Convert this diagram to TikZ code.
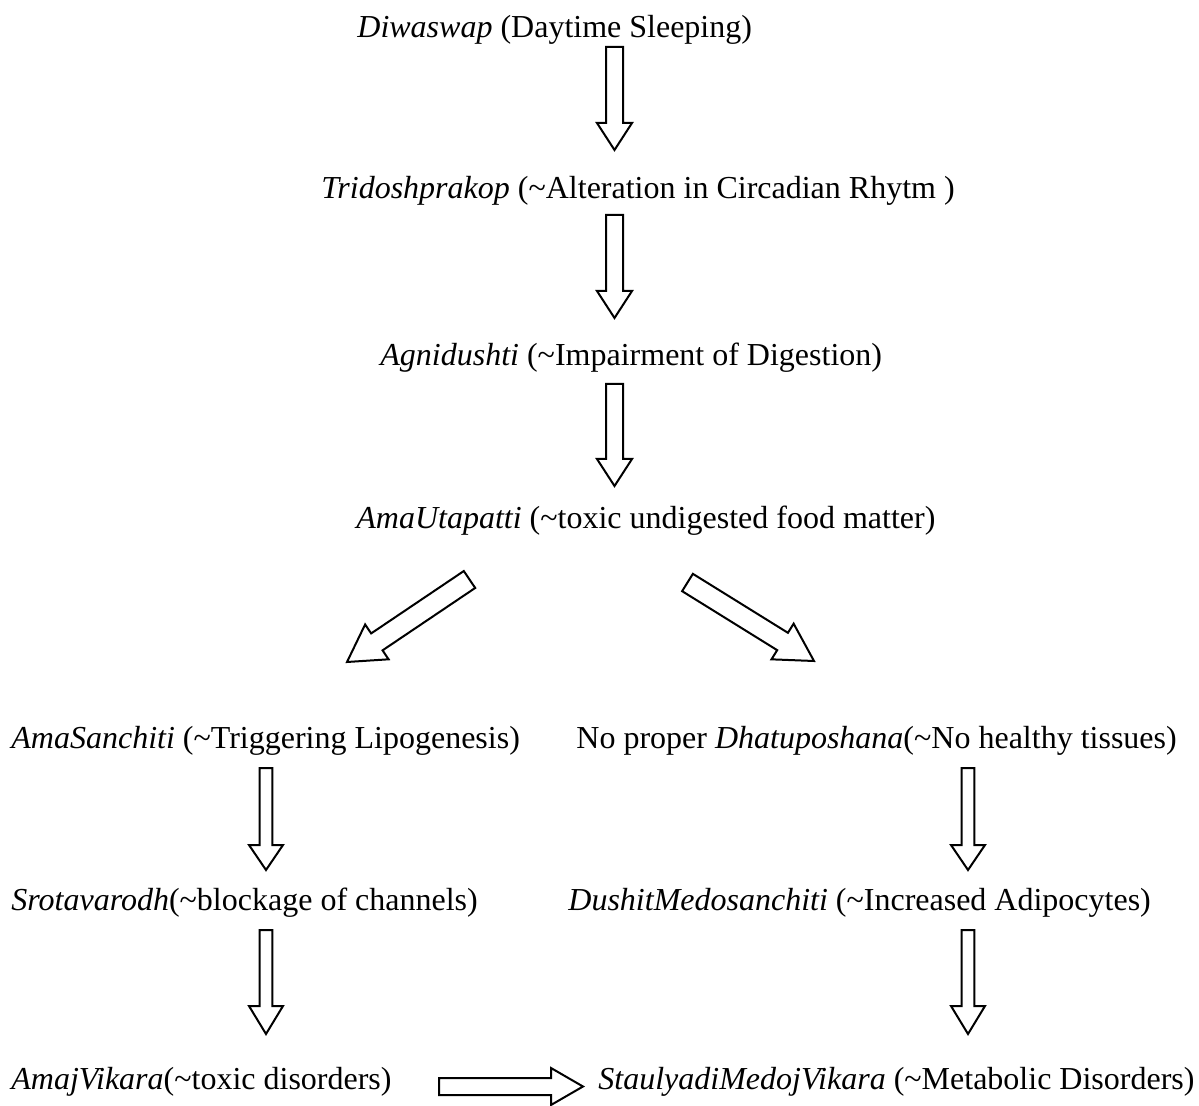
\documentclass[tikz,border=0pt]{standalone}
\usepackage{fontspec}
\setmainfont{Liberation Serif}
\usetikzlibrary{calc}
\tikzset{
  lbl/.style={inner sep=0pt, anchor=base west, font=\fontsize{16}{19}\selectfont},
  barrow/.style={draw=black, line width=1pt, fill=white, line join=miter}
}
% #1 start, #2 end, #3 shaft half width, #4 head half width, #5 head length (all in pt)
\newcommand{\blockarr}[5]{%
  \path[barrow]
    ($(#1)!#3!90:(#2)$) --
    ($(#2)!#5!(#1)!#3!-90:(#1)$) --
    ($(#2)!#5!(#1)!#4!-90:(#1)$) --
    (#2) --
    ($(#2)!#5!(#1)!#4!90:(#1)$) --
    ($(#2)!#5!(#1)!#3!90:(#1)$) --
    ($(#1)!#3!-90:(#2)$) -- cycle;}
\begin{document}
\begin{tikzpicture}[x=0.5pt,y=-0.5pt]
\useasboundingbox (0,0) rectangle (1199,1106);

\node[lbl] (n1) at (357,38) {\textit{Diwaswap} (Daytime Sleeping)};
\node[lbl] (n2) at (321,199) {\textit{Tridoshprakop} (\char`~Alteration in Circadian Rhytm )};
\node[lbl] (n3) at (380,366) {\textit{Agnidushti} (\char`~Impairment of Digestion)};
\node[lbl] (n4) at (356,529) {\textit{AmaUtapatti} (\char`~toxic undigested food matter)};
\node[lbl] (l1) at (11,748) {\textit{AmaSanchiti} (\char`~Triggering Lipogenesis)};
\node[lbl] (r1) at (576,748) {No proper \textit{Dhatuposhana}(\char`~No healthy tissues)};
\node[lbl] (l2) at (11,910) {\textit{Srotavarodh}(\char`~blockage of channels)};
\node[lbl] (r2) at (568,910) {\textit{DushitMedosanchiti} (\char`~Increased Adipocytes)};
\node[lbl] (l3) at (11,1089) {\textit{AmajVikara}(\char`~toxic disorders)};
\node[lbl] (r3) at (598,1089) {\textit{StaulyadiMedojVikara} (\char`~Metabolic Disorders)};

% arrow end points
\coordinate (a1s) at (614.5,47);   \coordinate (a1e) at (614.5,150);
\coordinate (a2s) at (614.5,215);  \coordinate (a2e) at (614.5,318);
\coordinate (a3s) at (614.5,384);  \coordinate (a3e) at (614.5,486);
\coordinate (dls) at (469.5,579.5); \coordinate (dle) at (347,662);
\coordinate (drs) at (687.5,582.5); \coordinate (dre) at (814,661);
\coordinate (l1s) at (266,768);    \coordinate (l1e) at (266,870);
\coordinate (l2s) at (266,930);    \coordinate (l2e) at (266,1034);
\coordinate (r1s) at (968,768);    \coordinate (r1e) at (968,870);
\coordinate (r2s) at (968,930);    \coordinate (r2e) at (968,1034);
\coordinate (hs) at (439,1086.5);  \coordinate (he) at (583,1086.5);

\blockarr{a1s}{a1e}{4.25pt}{8.75pt}{13.5pt}
\blockarr{a2s}{a2e}{4.25pt}{8.75pt}{13.5pt}
\blockarr{a3s}{a3e}{4.25pt}{8.75pt}{13.5pt}
\blockarr{dls}{dle}{5.1pt}{10.5pt}{18pt}
\blockarr{drs}{dre}{5.1pt}{10.5pt}{18.5pt}
\blockarr{l1s}{l1e}{3.2pt}{8.5pt}{12.5pt}
\blockarr{l2s}{l2e}{3.2pt}{8.5pt}{14pt}
\blockarr{r1s}{r1e}{3.2pt}{8.5pt}{12.5pt}
\blockarr{r2s}{r2e}{3.2pt}{8.5pt}{14pt}
\blockarr{hs}{he}{4.25pt}{9.25pt}{16pt}
\end{tikzpicture}
\end{document}
